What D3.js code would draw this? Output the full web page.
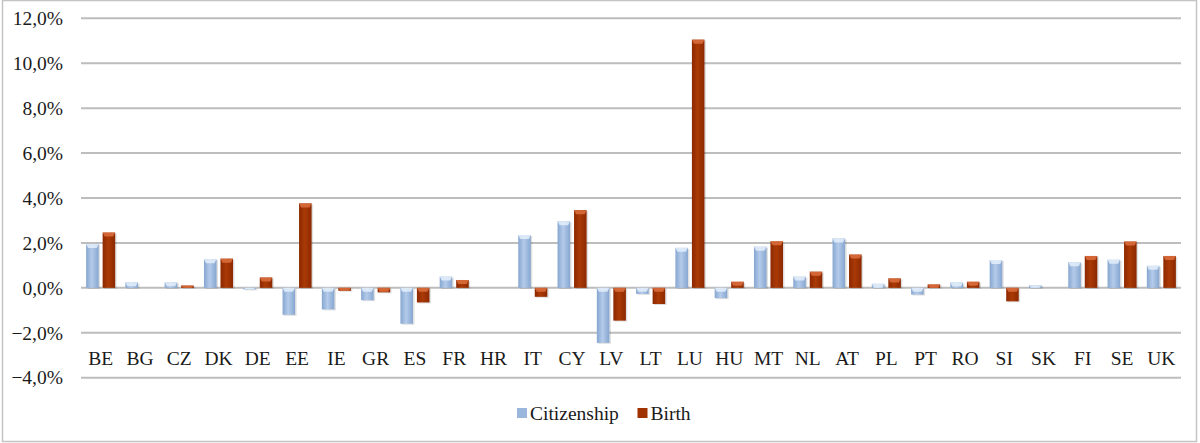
<!DOCTYPE html>
<meta charset="utf-8">
<style>
* { margin: 0; padding: 0; }
body { background: #fff; }
text { font-family: "Liberation Serif", "Times New Roman", serif; fill: #1a1a1a; }
</style>
<body>
<script src="https://cdn.jsdelivr.net/npm/d3@7"></script>
<script>

// data (percent)
var countries = ["BE","BG","CZ","DK","DE","EE","IE","GR","ES","FR","HR","IT","CY","LV","LT","LU","HU","MT","NL","AT","PL","PT","RO","SI","SK","FI","SE","UK"];
var citizenship = [1.95, 0.25, 0.25, 1.27, -0.05, -1.2, -0.96, -0.55, -1.6, 0.5, 0, 2.35, 2.97, -2.45, -0.27, 1.78, -0.46, 1.83, 0.5, 2.2, 0.18, -0.3, 0.24, 1.24, 0.12, 1.14, 1.25, 0.98];
var birth = [2.46, 0, 0.1, 1.3, 0.46, 3.76, -0.13, -0.2, -0.65, 0.35, 0, -0.4, 3.46, -1.46, -0.72, 11.05, 0.27, 2.07, 0.72, 1.48, 0.42, 0.15, 0.27, -0.6, 0, 1.42, 2.06, 1.42];
var seriesNames = ["Citizenship", "Birth"];
var yTicks = [-4, -2, 0, 2, 4, 6, 8, 10, 12];

var width = 1200,
    height = 443;

var svg = d3.select("body").append("svg")
    .attr("width", width)
    .attr("height", height);

var defs = svg.append("defs");

function grad(id, edge, mid) {
	var g = defs.append("linearGradient").attr("id", id)
		.attr("x1", "0%").attr("x2", "100%").attr("y1", "0%").attr("y2", "0%");
	g.append("stop").attr("offset", "0%").attr("stop-color", edge);
	g.append("stop").attr("offset", "45%").attr("stop-color", mid);
	g.append("stop").attr("offset", "100%").attr("stop-color", edge);
}
grad("g-cit", "#86a6d0", "#b4cbea");
grad("g-bir", "#8c2800", "#aa3a06");

var colors = { Citizenship: "url(#g-cit)", Birth: "url(#g-bir)" };
var capColors = { Citizenship: "#e4eefa", Birth: "#dd7040" };
var legendColors = { Citizenship: "#9ab6dc", Birth: "#a03200" };

// frame
svg.append("rect")
    .attr("x", 2.5).attr("y", 0.5)
    .attr("width", 1194).attr("height", 441)
    .attr("fill", "none").attr("stroke", "#c4c4c4").attr("stroke-width", 1.5);

var y = d3.scaleLinear().domain([-4, 12]).range([377.7, 18.3]);
var x0 = d3.scaleBand().domain(countries).range([81, 1181]);
var x1 = d3.scaleBand().domain(seriesNames).range([0, x0.bandwidth()])
    .paddingInner(0.24).paddingOuter(0.31);

// gridlines
svg.append("g").selectAll("line")
    .data(yTicks).enter().append("line")
    .attr("x1", 81).attr("x2", 1181)
    .attr("y1", function(d) { return y(d); })
    .attr("y2", function(d) { return y(d); })
    .attr("stroke", "#bdbdbd").attr("stroke-width", 2);

// y labels
var yAxis = d3.axisLeft(y).tickValues(yTicks)
    .tickSize(0).tickPadding(0)
    .tickFormat(function(d) { return d3.format(".1f")(d).replace(".", ",") + "%"; });
var ya = svg.append("g").attr("transform", "translate(63,0)").call(yAxis);
ya.select(".domain").remove();
ya.selectAll("text")
    .style("font-size", "19.5px")
    .style("font-family", "'Liberation Serif', serif")
    .style("fill", "#1a1a1a");

// bars
var rows = countries.map(function(c, i) {
	return { country: c, values: [
		{ key: "Citizenship", v: citizenship[i] },
		{ key: "Birth", v: birth[i] } ] };
});

var groups = svg.append("g").selectAll("g")
    .data(rows).enter().append("g")
    .attr("transform", function(d) { return "translate(" + x0(d.country) + ",0)"; });

var bars = groups.selectAll("g")
    .data(function(d) { return d.values.filter(function(v) { return v.v !== 0; }); })
    .enter().append("g");

// soft shadow
bars.append("rect")
    .attr("x", function(d) { return x1(d.key) + 1.5; })
    .attr("y", function(d) { return Math.min(y(d.v), y(0)) + 1; })
    .attr("width", x1.bandwidth())
    .attr("height", function(d) { return Math.max(1.5, Math.abs(y(d.v) - y(0))); })
    .attr("fill", "#000").attr("opacity", 0.12);

bars.append("rect")
    .attr("x", function(d) { return x1(d.key); })
    .attr("y", function(d) { return Math.min(y(d.v), y(0)); })
    .attr("width", x1.bandwidth())
    .attr("height", function(d) { return Math.max(1.5, Math.abs(y(d.v) - y(0))); })
    .attr("fill", function(d) { return colors[d.key]; });

// bevel cap on top of each bar
bars.append("path")
    .attr("d", function(d) {
    	var top = Math.min(y(d.v), y(0)),
    	    h = Math.min(4, Math.abs(y(d.v) - y(0))),
    	    l = x1(d.key), w = x1.bandwidth();
    	return "M" + l + "," + top + "L" + (l + w) + "," + top +
    	    "L" + (l + w - 2) + "," + (top + h) + "L" + (l + 2) + "," + (top + h) + "Z";
    })
    .attr("fill", function(d) { return capColors[d.key]; })
    .attr("opacity", 0.85);

// x labels
svg.append("g").selectAll("text")
    .data(countries).enter().append("text")
    .attr("x", function(d) { return x0(d) + x0.bandwidth() / 2; })
    .attr("y", 365)
    .attr("text-anchor", "middle")
    .style("font-size", "19.5px")
    .text(function(d) { return d; });

// legend
var legendX = { Citizenship: 517, Birth: 637.5 };
var lg = svg.append("g").selectAll("g")
    .data(seriesNames).enter().append("g")
    .attr("transform", function(d) { return "translate(" + legendX[d] + ",408)"; });
lg.append("rect")
    .attr("width", 10).attr("height", 10)
    .attr("fill", function(d) { return legendColors[d]; });
lg.append("text")
    .attr("x", 13).attr("y", 12)
    .style("font-size", "19.5px")
    .text(function(d) { return d; });

</script>
</body>
